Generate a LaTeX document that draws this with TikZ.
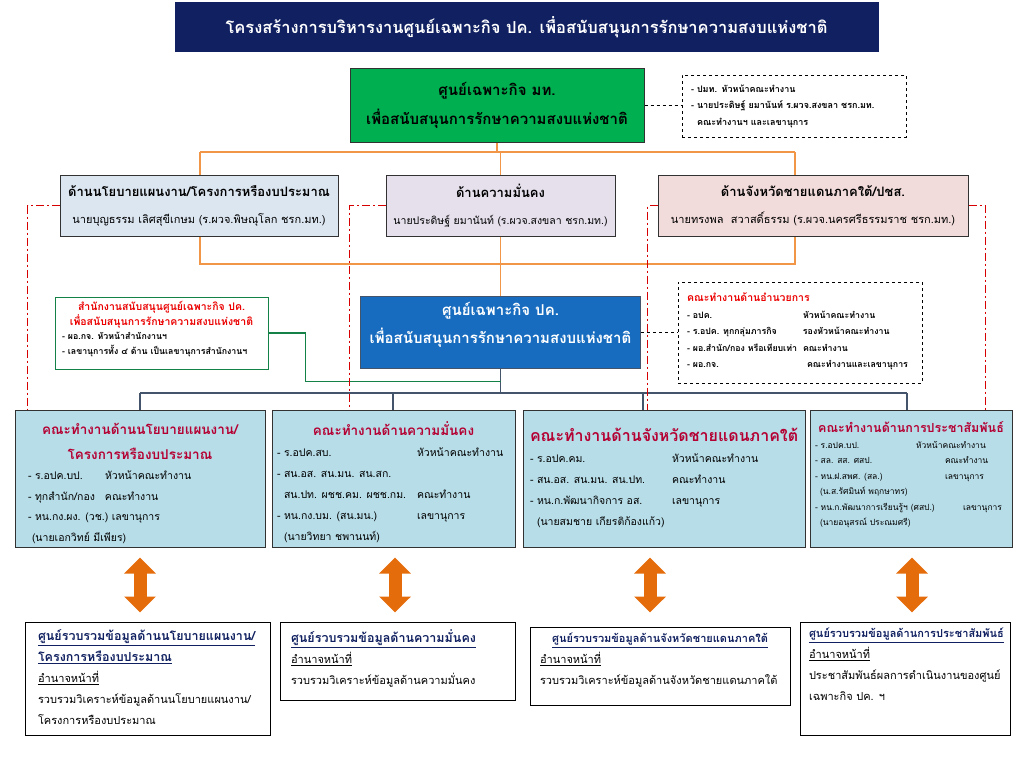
\documentclass[tikz,border=0pt]{standalone}
\usepackage{fontspec}
\setmainfont{Loma}[Script=Thai]
\usepackage{tikz}
\usetikzlibrary{calc,arrows.meta,positioning}
\definecolor{titleNavy}{RGB}{16,32,96}
\definecolor{mtGreen}{RGB}{0,176,80}
\definecolor{polBlue}{RGB}{220,230,241}
\definecolor{secLav}{RGB}{229,224,236}
\definecolor{southPink}{RGB}{242,220,219}
\definecolor{centreBlue}{RGB}{23,108,192}
\definecolor{teamBlue}{RGB}{183,221,232}
\definecolor{edgeGray}{RGB}{50,50,50}
\definecolor{linkOrange}{RGB}{240,150,70}
\definecolor{arrowOrange}{RGB}{228,108,10}
\definecolor{linkRed}{RGB}{215,0,0}
\definecolor{busGray}{RGB}{68,84,106}
\definecolor{teamRed}{RGB}{180,0,50}
\definecolor{officeRed}{RGB}{235,0,0}
\definecolor{officeGreen}{RGB}{20,130,70}
\definecolor{hubNavy}{RGB}{16,32,96}

\newcommand{\toptext}[3]{\parbox[t][#2][t]{#1}{#3}}
\newcommand{\teamhead}{\fontsize{13.5}{25}\selectfont\bfseries\color{teamRed}}
\newcommand{\teamlist}{\fontsize{10.5}{20.5}\selectfont\mdseries\color{black}}
\newcommand{\hubhead}{\fontsize{12.5}{20.5}\selectfont\bfseries\color{hubNavy}}
\newcommand{\hubbody}{\fontsize{11}{21}\selectfont\mdseries\color{black}}

\tikzset{
  plainbox/.style={draw=edgeGray, line width=1pt, inner sep=0pt, align=center},
  notebox/.style={draw=black, dashed, line width=0.8pt},
  notelink/.style={draw=black, dashed, line width=0.6pt},
  orgline/.style={draw=linkOrange, line width=1.3pt},
  dashlink/.style={draw=linkRed, line width=1.5pt, dash pattern=on 8pt off 3pt on 2pt off 3pt},
  busline/.style={draw=busGray, line width=1.1pt},
  officelink/.style={draw=officeGreen, line width=1.1pt},
  dblarrow/.style={draw=arrowOrange, line width=13pt,
    {Triangle[width=31pt,length=16pt]}-{Triangle[width=31pt,length=16pt]}},
}

\begin{document}
\begin{tikzpicture}[x=1pt,y=-1pt]
\useasboundingbox (0,0) rectangle (1024,768);

% title bar
\node[plainbox, fill=titleNavy, draw=titleNavy, text=white, minimum width=703, minimum height=49,
  font=\fontsize{16.5}{22}\selectfont\bfseries] (title) at (526.5,27.5)
  {โครงสร้างการบริหารงานศูนย์เฉพาะกิจ ปค. เพื่อสนับสนุนการรักษาความสงบแห่งชาติ};

% ministry centre and its note
\node[plainbox, fill=mtGreen, minimum width=294, minimum height=74,
  font=\fontsize{15}{29}\selectfont\bfseries] (mt) at (497,105)
  {ศูนย์เฉพาะกิจ มท.\\เพื่อสนับสนุนการรักษาความสงบแห่งชาติ};
\node[notebox, text width=206, inner xsep=9, minimum height=62, align=left,
  font=\fontsize{9}{16.5}\selectfont\bfseries] (mtnote) at (794,106)
  {- ปมท. หัวหน้าคณะทำงาน\\- นายประดิษฐ์ ยมานันท์ ร.ผวจ.สงขลา ชรก.มท.\\\hspace*{6pt}คณะทำงานฯ และเลขานุการ};
\draw[notelink] (mt.east) -- (mt.east -| mtnote.west);

% three sides
\node[plainbox, fill=polBlue, minimum width=278, minimum height=61,
  font=\fontsize{11}{27}\selectfont] (pol) at (199,205.5)
  {{\fontsize{13}{27}\selectfont\bfseries ด้านนโยบายแผนงาน/โครงการหรืองบประมาณ}\\นายบุญธรรม เลิศสุขีเกษม (ร.ผวจ.พิษณุโลก ชรก.มท.)};
\node[plainbox, fill=secLav, minimum width=229, minimum height=61,
  font=\fontsize{10.5}{27}\selectfont] (sec) at (500.5,205.5)
  {{\fontsize{13}{27}\selectfont\bfseries ด้านความมั่นคง}\\นายประดิษฐ์ ยมานันท์ (ร.ผวจ.สงขลา ชรก.มท.)};
\node[plainbox, fill=southPink, minimum width=310, minimum height=61,
  font=\fontsize{11}{27}\selectfont] (south) at (813,205.5)
  {{\fontsize{13}{27}\selectfont\bfseries ด้านจังหวัดชายแดนภาคใต้/ปชส.}\\นายทรงพล\ \ สวาสดิ์ธรรม (ร.ผวจ.นครศรีธรรมราช ชรก.มท.)};

% orange links
\coordinate (topL) at (200,152);
\coordinate (topR) at (795,152);
\coordinate (midL) at (200,264);
\coordinate (midR) at (795,264);
\draw[orgline] (mt.south) -- (mt.south |- topL);
\draw[orgline] (topL) -- (topR);
\draw[orgline] (topL) -- (topL |- pol.north);
\draw[orgline] (sec.north |- topL) -- (sec.north);
\draw[orgline] (topR) -- (topR |- south.north);
\draw[orgline] (midL |- pol.south) -- (midL) -- (midR) -- (midR |- south.south);

% department centre
\node[plainbox, fill=centreBlue, draw=busGray, text=white, minimum width=280, minimum height=72,
  font=\fontsize{15}{28}\selectfont\bfseries] (centre) at (500.5,332)
  {ศูนย์เฉพาะกิจ ปค.\\เพื่อสนับสนุนการรักษาความสงบแห่งชาติ\\[-10pt]};
\draw[orgline] (sec.south) -- (centre.north);

% office
\node[plainbox, draw=officeGreen, fill=white, minimum width=213, minimum height=72] (office) at (161.5,333)
  {\toptext{199pt}{64pt}{\centering\fontsize{10.5}{15}\selectfont\bfseries\color{officeRed}
  สำนักงานสนับสนุนศูนย์เฉพาะกิจ ปค.\\เพื่อสนับสนุนการรักษาความสงบแห่งชาติ\par
  \raggedright\fontsize{8.8}{14.5}\selectfont\color{black}
  - ผอ.กจ. หัวหน้าสำนักงานฯ\\- เลขานุการทั้ง ๔ ด้าน เป็นเลขานุการสำนักงานฯ\par}};

% admin group
\node[notebox, inner sep=0pt, minimum width=244, minimum height=101] (admin) at (800,332.5)
  {\toptext{226pt}{91pt}{\vspace*{6pt}\raggedright\fontsize{10.5}{18}\selectfont\bfseries\color{officeRed}
  คณะทำงานด้านอำนวยการ\par
  \fontsize{8.8}{16.5}\selectfont\color{black}
  \makebox[116pt][l]{- อปค.}หัวหน้าคณะทำงาน\\
  \makebox[116pt][l]{- ร.อปค. ทุกกลุ่มภารกิจ}รองหัวหน้าคณะทำงาน\\
  \makebox[116pt][l]{- ผอ.สำนัก/กอง หรือเทียบเท่า}คณะทำงาน\\
  \makebox[120pt][l]{- ผอ.กจ.}คณะทำงานและเลขานุการ\par}};
\draw[notelink] (centre.east) -- (centre.east -| admin.west);

% working groups
\node[plainbox, fill=teamBlue, minimum width=250, minimum height=137] (teamA) at (140,478.5)
  {\toptext{224pt}{129pt}{\vspace*{9pt}\centering\teamhead
  คณะทำงานด้านนโยบายแผนงาน/\\โครงการหรืองบประมาณ\par
  \raggedright\teamlist
  \makebox[77pt][l]{- ร.อปค.บป.}หัวหน้าคณะทำงาน\\
  \makebox[77pt][l]{- ทุกสำนัก/กอง}คณะทำงาน\\
  - หน.กง.ผง. (วช.)\ เลขานุการ\\
  \hspace*{4pt}(นายเอกวิทย์ มีเพียร)\par}};
\node[plainbox, fill=teamBlue, minimum width=243, minimum height=137] (teamB) at (393.5,478.5)
  {\toptext{233pt}{129pt}{\vspace*{8pt}\centering\teamhead
  คณะทำงานด้านความมั่นคง\par
  \raggedright\fontsize{10.5}{21}\selectfont\mdseries\color{black}
  \makebox[140pt][l]{- ร.อปค.สบ.}หัวหน้าคณะทำงาน\\
  - สน.อส. สน.มน. สน.สก.\\
  \makebox[140pt][l]{\hspace*{7pt}สน.ปท. ผชช.คม. ผชช.กม.}คณะทำงาน\\
  \makebox[140pt][l]{- หน.กง.บม. (สน.มน.)}เลขานุการ\\
  \hspace*{7pt}(นายวิทยา ชพานนท์)\par}};
\node[plainbox, fill=teamBlue, minimum width=282, minimum height=137] (teamC) at (664,478.5)
  {\toptext{268pt}{129pt}{\vspace*{14pt}\centering\teamhead\fontsize{16}{26}\selectfont
  คณะทำงานด้านจังหวัดชายแดนภาคใต้\par
  \raggedright\fontsize{10.5}{21}\selectfont\mdseries\color{black}
  \makebox[142pt][l]{- ร.อปค.คม.}หัวหน้าคณะทำงาน\\
  \makebox[142pt][l]{- สน.อส. สน.มน. สน.ปท.}คณะทำงาน\\
  \makebox[142pt][l]{- หน.ก.พัฒนากิจการ อส.}เลขานุการ\\
  \hspace*{7pt}(นายสมชาย เกียรติก้องแก้ว)\par}};
\node[plainbox, fill=teamBlue, minimum width=202, minimum height=137] (teamD) at (911,478.5)
  {\toptext{192pt}{129pt}{\vspace*{8pt}\centering\teamhead\fontsize{12.5}{19.5}\selectfont
  คณะทำงานด้านการประชาสัมพันธ์\par
  \raggedright\fontsize{8.5}{15.5}\selectfont\mdseries\color{black}
  \makebox[101pt][l]{- ร.อปค.บป.}หัวหน้าคณะทำงาน\\
  \makebox[130pt][l]{- สล. สส. ศสป.}คณะทำงาน\\
  \makebox[130pt][l]{- หน.ฝ.สพศ. (สล.)}เลขานุการ\\
  \hspace*{5pt}(น.ส.รัศมินท์ พฤกษาทร)\\
  \makebox[148pt][l]{- หน.ก.พัฒนาการเรียนรู้ฯ (ศสป.)}เลขานุการ\\
  \hspace*{5pt}(นายอนุสรณ์ ประณมศรี)\par}};

% bus from department centre
\coordinate (busA) at (140,393);
\coordinate (busB) at (393,393);
\coordinate (busC) at (643,393);
\coordinate (busD) at (907,393);
\coordinate (officeJoin) at ($(centre.south)+(0,13)$);
\draw[busline] (centre.south) -- (centre.south |- busA);
\draw[busline] (busA) -- (busD);
\draw[busline] (busA) -- (busA |- teamA.north);
\draw[busline] (busB) -- (busB |- teamB.north);
\draw[busline] (busC) -- (busC |- teamC.north);
\draw[busline] (busD) -- (busD |- teamD.north);
\draw[officelink] (office.east) -- ++(37,0) |- (officeJoin);

% red dash-dot links from the sides
\draw[dashlink] (pol.west) -| ($(teamA.north west)+(13,0)$);
\draw[dashlink] (sec.west) -| ($(teamB.north west)+(78,0)$);
\draw[dashlink] (south.west) -| ($(teamC.north west)+(125,0)$);
\draw[dashlink] (south.east) -| ($(teamD.north east)+(-27,0)$);

% data hubs
\node[plainbox, draw=black, fill=white, minimum width=245, minimum height=113] (hubA) at (147.5,678.5)
  {\toptext{219pt}{105pt}{\vspace*{4pt}\raggedright\hubhead
  \underline{ศูนย์รวบรวมข้อมูลด้านนโยบายแผนงาน/}\\\underline{โครงการหรืองบประมาณ}\par
  \hubbody\underline{อำนาจหน้าที่}\\รวบรวมวิเคราะห์ข้อมูลด้านนโยบายแผนงาน/\\โครงการหรืองบประมาณ\par}};
\node[plainbox, draw=black, fill=white, minimum width=235, minimum height=78] (hubB) at (397.5,661)
  {\toptext{213pt}{70pt}{\vspace*{4pt}\raggedright\hubhead
  \underline{ศูนย์รวบรวมข้อมูลด้านความมั่นคง}\par
  \hubbody\underline{อำนาจหน้าที่}\\รวบรวมวิเคราะห์ข้อมูลด้านความมั่นคง\par}};
\node[plainbox, draw=black, fill=white, minimum width=260, minimum height=78] (hubC) at (660,666)
  {\toptext{240pt}{70pt}{\vspace*{2pt}\raggedright{\centering\hubhead\fontsize{11}{20.5}\selectfont
  \underline{ศูนย์รวบรวมข้อมูลด้านจังหวัดชายแดนภาคใต้}\par}
  \hubbody\underline{อำนาจหน้าที่}\\รวบรวมวิเคราะห์ข้อมูลด้านจังหวัดชายแดนภาคใต้\par}};
\node[plainbox, draw=black, fill=white, minimum width=210, minimum height=113] (hubD) at (905,678.5)
  {\toptext{192pt}{105pt}{\vspace*{2pt}\raggedright\hubhead\fontsize{11}{20.5}\selectfont
  \underline{ศูนย์รวบรวมข้อมูลด้านการประชาสัมพันธ์}\par
  \hubbody\underline{อำนาจหน้าที่}\\ประชาสัมพันธ์ผลการดำเนินงานของศูนย์\\เฉพาะกิจ ปค. ฯ\par}};

% two-way arrows
\draw[dblarrow] ([yshift=-10pt]teamA.south) -- ([yshift=9pt]teamA.south |- hubA.north);
\draw[dblarrow] ([xshift=1.5pt,yshift=-10pt]teamB.south) -- ([xshift=1.5pt,yshift=9pt]teamB.south |- hubB.north);
\draw[dblarrow] ([xshift=-14pt,yshift=-10pt]teamC.south) -- ([xshift=-14pt,yshift=14pt]teamC.south |- hubC.north);
\draw[dblarrow] ([xshift=1pt,yshift=-10pt]teamD.south) -- ([xshift=1pt,yshift=9pt]teamD.south |- hubD.north);
\end{tikzpicture}
\end{document}
